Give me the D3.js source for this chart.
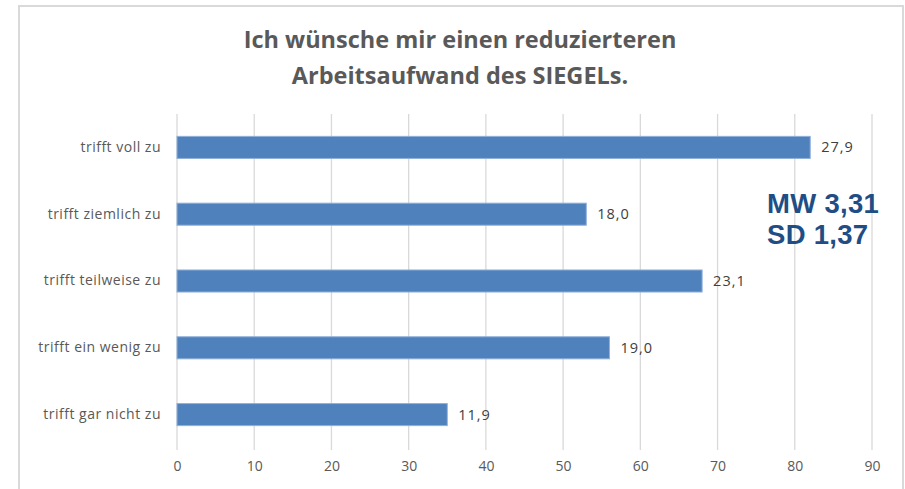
<!DOCTYPE html>
<html>
<head>
<meta charset="utf-8">
<script src="https://cdn.jsdelivr.net/npm/d3@7"></script>
<style>
  body { margin: 0; background: #fff; }
  svg { display: block; }
</style>
</head>
<body>
<svg id="chart"></svg>
<script>
// answers (top to bottom)
const categories = [
    'trifft voll zu',
    'trifft ziemlich zu',
    'trifft teilweise zu',
    'trifft ein wenig zu',
    'trifft gar nicht zu'
]
// bar lengths (counts) and the percent labels printed next to them
const counts = [82, 53, 68, 56, 35]
const percentLabels = ['27,9', '18,0', '23,1', '19,0', '11,9']
const xTicks = [0, 10, 20, 30, 40, 50, 60, 70, 80, 90]
const titleLines = ['Ich wünsche mir einen reduzierteren', 'Arbeitsaufwand des SIEGELs.']
const statsLines = ['MW 3,31', 'SD 1,37']

const W = 905
const H = 489

const svg = d3.select('#chart')
    .attr('width', W)
    .attr('height', H)

// chart frame
svg.append('rect')
    .attr('x', 19)
    .attr('y', 6)
    .attr('width', 884)
    .attr('height', 520)
    .attr('fill', '#fff')
    .attr('stroke', '#d9d9d9')
    .attr('stroke-width', 2)

const data = categories.map((c, i) => ({ cat: c, count: counts[i], label: percentLabels[i] }))

const x = d3.scaleLinear()
    .domain([0, 90])
    .range([177, 872])

const y = d3.scaleBand()
    .domain(categories)
    .range([114, 448])
    .paddingInner(0.67)
    .paddingOuter(0.335)

// gridlines
svg.append('g')
    .selectAll('line')
    .data(xTicks)
    .enter()
    .append('line')
    .attr('x1', d => x(d))
    .attr('x2', d => x(d))
    .attr('y1', 114)
    .attr('y2', 450)
    .attr('stroke', '#d9d9d9')
    .attr('stroke-width', 1.3)

// x axis labels
const xAxis = d3.axisBottom(x)
    .tickValues(xTicks)
    .tickSize(0)
    .tickPadding(0)

const gx = svg.append('g')
    .attr('transform', 'translate(0,463)')
    .call(xAxis)
gx.select('.domain').remove()
gx.selectAll('text')
    .attr('dy', '0.6em')
    .attr('fill', '#595959')
    .attr('font-family', 'Open Sans, sans-serif')
    .attr('font-size', 14)

// category labels
const yAxis = d3.axisLeft(y)
    .tickSize(0)
    .tickPadding(0)

const gy = svg.append('g')
    .attr('transform', 'translate(161,0)')
    .call(yAxis)
gy.select('.domain').remove()
gy.selectAll('text')
    .attr('fill', '#595959')
    .attr('font-family', 'Open Sans, sans-serif')
    .attr('font-size', 14)
    .attr('letter-spacing', 0.5)

// bars
svg.selectAll('.bar')
    .data(data)
    .enter()
    .append('rect')
    .attr('class', 'bar')
    .attr('x', x(0))
    .attr('y', d => y(d.cat))
    .attr('width', d => x(d.count) - x(0))
    .attr('height', y.bandwidth())
    .attr('fill', '#4f81bd')
    .attr('stroke', '#8fb0da')
    .attr('stroke-width', 1)

// value labels
svg.selectAll('.val')
    .data(data)
    .enter()
    .append('text')
    .attr('class', 'val')
    .attr('x', d => x(d.count) + 11)
    .attr('y', d => y(d.cat) + y.bandwidth() / 2)
    .attr('dy', '0.35em')
    .attr('fill', '#404040')
    .attr('font-family', 'Open Sans, sans-serif')
    .attr('font-size', 14.5)
    .attr('letter-spacing', 1)
    .text(d => d.label)

// title
svg.append('text')
    .attr('x', 460)
    .attr('y', 40)
    .attr('text-anchor', 'middle')
    .attr('fill', '#595959')
    .attr('font-family', 'Open Sans, sans-serif')
    .attr('font-weight', 'bold')
    .attr('font-size', 23.5)
    .selectAll('tspan')
    .data(titleLines)
    .enter()
    .append('tspan')
    .attr('x', 460)
    .attr('dy', (d, i) => i === 0 ? '0.35em' : 36)
    .text(d => d)

// MW / SD annotation
svg.append('g')
    .selectAll('text')
    .data(statsLines)
    .enter()
    .append('text')
    .attr('x', 767)
    .attr('y', (d, i) => 213 + i * 31)
    .attr('fill', '#1f4e86')
    .attr('font-family', 'Liberation Sans, Arial, sans-serif')
    .attr('font-weight', 'bold')
    .attr('font-size', 27.5)
    .attr('letter-spacing', 0.3)
    .text(d => d)
</script>
</body>
</html>
